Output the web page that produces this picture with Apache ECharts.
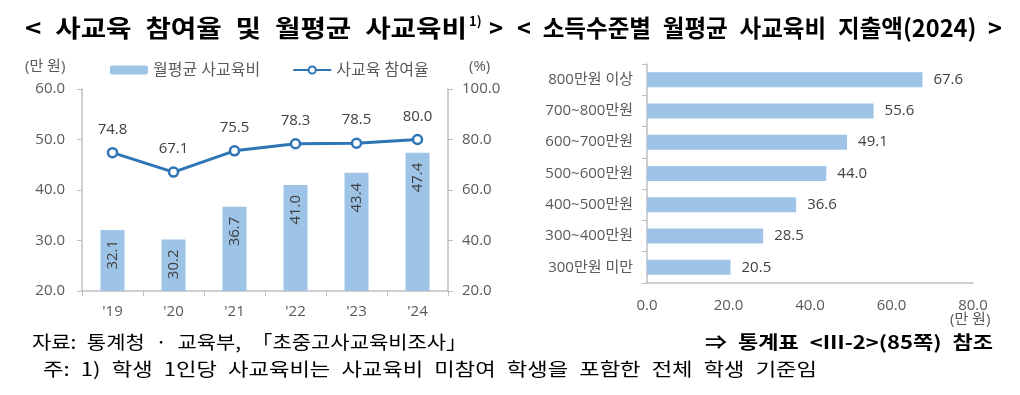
<!DOCTYPE html>
<html><head><meta charset="utf-8">
<script src="https://cdn.jsdelivr.net/npm/echarts@6/dist/echarts.min.js"></script>
<style>html,body{margin:0;padding:0;background:#fff}#c{width:1020px;height:395px}</style>
</head><body><div id="c"></div>
<script>
const years = ["'19","'20","'21","'22","'23","'24"];
const spending = [32.1, 30.2, 36.7, 41.0, 43.4, 47.4];
const participation = [74.8, 67.1, 75.5, 78.3, 78.5, 80.0];
const incomeGroups = ["800만원 이상","700~800만원","600~700만원","500~600만원","400~500만원","300~400만원","300만원 미만"];
const incomeSpending = [67.6, 55.6, 49.1, 44.0, 36.6, 28.5, 20.5];

const F = '"Open Sans","Noto Sans CJK KR",sans-serif';
const K = '"Noto Sans CJK KR","Noto Sans",sans-serif';
const axisGrey = '#bfbfbf';
const labGrey = '#595959';
const valGrey = '#404040';
const barBlue = '#9dc3e6';
const lineBlue = '#2e75b6';

const mctx = document.createElement('canvas').getContext('2d');
function fit(text, font, target) { mctx.font = font; return target / mctx.measureText(text).width; }
function fitText(text, font, x0, x1, yMid, fill) {
  return {type: 'text', x: x0, y: yMid, scaleX: fit(text, font, x1 - x0),
    style: {text: text, font: font, fill: fill || '#000', textVerticalAlign: 'middle', textAlign: 'left'}};
}
const E = '\u2002';
const tFont = 'bold 24px ' + K;
const fFont = '18px ' + K;
const fbFont = 'bold 18px ' + K;
const title1 = '<' + E + '사교육' + E + '참여율' + E + '및' + E + '월평균' + E + '사교육비';
const title2 = '<' + E + '소득수준별' + E + '월평균' + E + '사교육비' + E + '지출액(2024)' + E + '>';
const foot1 = '자료:' + E + '통계청' + E + '·' + E + '교육부,' + E + '「초중고사교육비조사」';
const foot2 = '주:' + E + '1)' + E + '학생' + E + '1인당' + E + '사교육비는' + E + '사교육비' + E + '미참여' + E + '학생을' + E + '포함한' + E + '전체' + E + '학생' + E + '기준임';
const foot3 = '⇒' + E + '통계표' + E + '<Ⅲ-2>(85쪽)' + E + '참조';

const chart = echarts.init(document.getElementById('c'));
chart.setOption({
  animation: false,
  textStyle: {fontFamily: F},
  legend: {
    left: 105, top: 57, itemGap: 32, itemWidth: 38, itemHeight: 9,
    textStyle: {fontFamily: F, fontSize: 16, color: labGrey},
    data: ['월평균 사교육비', '사교육 참여율']
  },
  grid: [
    {left: 82, top: 89, width: 366, height: 202},
    {left: 647, top: 64, width: 326, height: 219}
  ],
  xAxis: [
    {type: 'category', gridIndex: 0, data: years,
     axisLine: {lineStyle: {color: axisGrey, width: 1.5}},
     axisTick: {show: true, alignWithLabel: false, length: 5, lineStyle: {color: axisGrey}},
     axisLabel: {color: labGrey, fontSize: 15, margin: 13, fontFamily: F}},
    {type: 'value', gridIndex: 1, min: 0, max: 80, interval: 20,
     splitLine: {show: false},
     axisLine: {show: true, lineStyle: {color: axisGrey, width: 1.5}},
     axisTick: {show: false},
     axisLabel: {color: labGrey, fontSize: 15, margin: 15, fontFamily: F,
       formatter: v => v.toFixed(1)}}
  ],
  yAxis: [
    {type: 'value', gridIndex: 0, min: 20, max: 60, interval: 10,
     splitLine: {show: false},
     axisLine: {show: true, lineStyle: {color: axisGrey, width: 1.5}},
     axisTick: {show: true, length: 5, lineStyle: {color: axisGrey}},
     axisLabel: {color: labGrey, fontSize: 15, margin: 17, fontFamily: F, formatter: v => v.toFixed(1)}},
    {type: 'value', gridIndex: 0, min: 20, max: 100, interval: 20, position: 'right',
     splitLine: {show: false},
     axisLine: {show: true, lineStyle: {color: axisGrey, width: 1.5}},
     axisTick: {show: true, length: 5, lineStyle: {color: axisGrey}},
     axisLabel: {color: labGrey, fontSize: 15, margin: 14, fontFamily: F, formatter: v => v.toFixed(1)}},
    {type: 'category', gridIndex: 1, data: incomeGroups, inverse: true,
     axisLine: {show: true, lineStyle: {color: axisGrey, width: 1.5}},
     axisTick: {show: true, length: 5, lineStyle: {color: axisGrey}},
     axisLabel: {color: labGrey, fontSize: 15, margin: 14, fontFamily: F}}
  ],
  series: [
    {name: '월평균 사교육비', type: 'bar', xAxisIndex: 0, yAxisIndex: 0, data: spending,
     barWidth: 24, itemStyle: {color: barBlue},
     label: {show: true, position: 'insideTop', rotate: 90, align: 'right', verticalAlign: 'middle',
       distance: 10, color: valGrey, fontSize: 15, fontFamily: F, formatter: p => p.value.toFixed(1)}},
    {name: '사교육 참여율', type: 'line', xAxisIndex: 0, yAxisIndex: 1, data: participation,
     lineStyle: {color: lineBlue, width: 3}, itemStyle: {color: '#fff', borderColor: lineBlue, borderWidth: 2.5},
     symbol: 'circle', symbolSize: 9,
     label: {show: true, position: 'top', distance: 10, color: valGrey, fontSize: 15, fontFamily: F,
       formatter: p => p.value.toFixed(1)}},
    {name: 'income', type: 'bar', xAxisIndex: 1, yAxisIndex: 2, data: incomeSpending,
     barWidth: 15, itemStyle: {color: barBlue},
     label: {show: true, position: 'right', distance: 11, color: valGrey, fontSize: 15, fontFamily: F,
       formatter: p => p.value.toFixed(1)}}
  ],
  graphic: [
    fitText(title1, tFont, 25, 467, 28),
    {type: 'text', x: 469, y: 21, style: {text: '1)', font: 'bold 13px ' + K, fill: '#000', textVerticalAlign: 'middle'}},
    {type: 'text', x: 489, y: 28, style: {text: '>', font: tFont, fill: '#000', textVerticalAlign: 'middle'}},
    fitText(title2, tFont, 517, 1002, 28),
    {type: 'text', x: 25, y: 67, style: {text: '(만 원)', font: '15px ' + F, fill: labGrey, textVerticalAlign: 'middle'}},
    {type: 'text', x: 469, y: 67, style: {text: '(%)', font: '15px ' + F, fill: labGrey, textVerticalAlign: 'middle'}},
    {type: 'text', x: 950, y: 320, style: {text: '(만 원)', font: '15px ' + F, fill: labGrey, textVerticalAlign: 'middle'}},
    fitText(foot1, fFont, 32, 467, 342),
    fitText(foot3, fbFont, 705, 993, 342),
    fitText(foot2, fFont, 43, 817, 369)
  ]
});
</script></body></html>
